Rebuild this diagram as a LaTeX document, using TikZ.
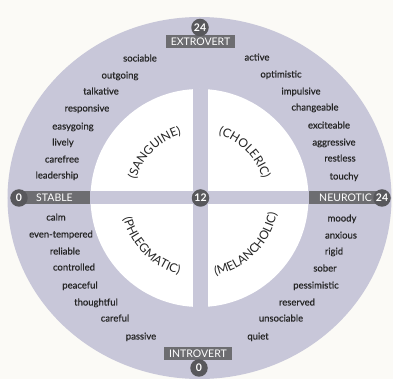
\documentclass[tikz,border=0pt]{standalone}
\usepackage{fontspec}
\setmainfont{Lato}
\newfontfamily\wordfamily[FakeBold=0.6]{Lato}
\usepackage{tikz}
\usetikzlibrary{positioning,decorations.text}
\definecolor{ringgrey}{HTML}{C8C7D9}
\definecolor{tagdark}{HTML}{6D6D71}
\definecolor{dotdark}{HTML}{58585C}
\definecolor{paper}{HTML}{FBFAF6}
\definecolor{inkgrey}{HTML}{262626}
\newcommand{\quadfont}{\fontsize{12}{13}\selectfont}

\begin{document}
\begin{tikzpicture}[x=1pt,y=1pt]
\tikzstyle{word}=[font=\wordfamily\fontsize{9.5}{10}\selectfont, text=inkgrey, inner sep=0pt, text height=7pt, text depth=2pt]
\tikzstyle{tagbox}=[fill=tagdark, text=white, font=\fontsize{10.5}{11}\selectfont, inner sep=0pt, minimum height=13pt]
\tikzstyle{numdot}=[circle, fill=dotdark, text=white, font=\bfseries\fontsize{10.5}{11}\selectfont, inner sep=0pt, minimum size=17.5pt]
\tikzstyle{quadlabel}=[decorate, decoration={text along path, text align=center, text color=inkgrey}]
\useasboundingbox (-199.5,-181) rectangle (193.5,198);
\fill[paper] (-199.5,-181) rectangle (193.5,198);
\fill[ringgrey] (0,0) ellipse [x radius=192, y radius=181];
\fill[white] (0,0) circle (109);
\fill[ringgrey] (-109,-6.5) rectangle (109,6.5);
\fill[ringgrey] (-7,-109) rectangle (8,109);

\node[tagbox, minimum width=69pt] (extro) at (1,156) {EXTROVERT};
\node[numdot] (top) at (0.5,170.5) {24};
\node[tagbox, minimum width=68pt] (intro) at (-1.5,-155.5) {INTROVERT};
\node[numdot] (bottom) at (-0.5,-170) {0};
\node[tagbox, minimum width=72pt] (stable) at (-145,0) {STABLE};
\node[numdot] (left) at (-180.5,0) {0};
\node[tagbox, minimum width=74pt] (neuro) at (146,0) {NEUROTIC};
\node[numdot] (right) at (182.5,0) {24};
\node[numdot] (mid) at (1,0) {12};

\path[quadlabel, decoration={text={|\quadfont|(SANGUINE)}}] (180:66) arc[start angle=180, end angle=90, radius=66];
\path[quadlabel, decoration={text={|\quadfont|(CHOLERIC)}}] (90:66) arc[start angle=90, end angle=0, radius=66];
\path[quadlabel, decoration={text={|\quadfont|(PHLEGMATIC)}}] (180:79) arc[start angle=180, end angle=270, radius=79];
\path[quadlabel, decoration={text={|\quadfont|(MELANCHOLIC)}}] (270:79) arc[start angle=270, end angle=360, radius=79];

\node[word] (sociable) at (-59.5,139) {sociable};
\node[word] (outgoing) at (-79.5,122) {outgoing};
\node[word] (talkative) at (-98.5,106) {talkative};
\node[word] (responsive) at (-112.5,89) {responsive};
\node[word] (easygoing) at (-126.5,71) {easygoing};
\node[word] (lively) at (-136.5,55) {lively};
\node[word] (carefree) at (-137.5,38) {carefree};
\node[word] (leadership) at (-142.5,22) {leadership};

\node[word] (active) at (57.5,140) {active};
\node[word] (optimistic) at (81.5,123) {optimistic};
\node[word] (impulsive) at (101.5,106) {impulsive};
\node[word] (changeable) at (115.5,90) {changeable};
\node[word] (exciteable) at (129.5,72) {exciteable};
\node[word] (aggressive) at (134.5,55) {aggressive};
\node[word] (restless) at (140.5,39) {restless};
\node[word] (touchy) at (144.5,21) {touchy};

\node[word] (calm) at (-143.5,-20) {calm};
\node[word] (eventempered) at (-138.5,-37) {even-tempered};
\node[word] (reliable) at (-134.5,-54) {reliable};
\node[word] (controlled) at (-125.5,-70) {controlled};
\node[word] (peaceful) at (-119.5,-88) {peaceful};
\node[word] (thoughtful) at (-103.5,-105) {thoughtful};
\node[word] (careful) at (-84.5,-121) {careful};
\node[word] (passive) at (-58.5,-139) {passive};

\node[word] (moody) at (142.5,-21) {moody};
\node[word] (anxious) at (141.5,-38) {anxious};
\node[word] (rigid) at (134.5,-54) {rigid};
\node[word] (sober) at (125.5,-71) {sober};
\node[word] (pessimistic) at (116.5,-88) {pessimistic};
\node[word] (reserved) at (97.5,-105) {reserved};
\node[word] (unsociable) at (81.5,-121) {unsociable};
\node[word] (quiet) at (58.5,-139) {quiet};
\end{tikzpicture}
\end{document}
